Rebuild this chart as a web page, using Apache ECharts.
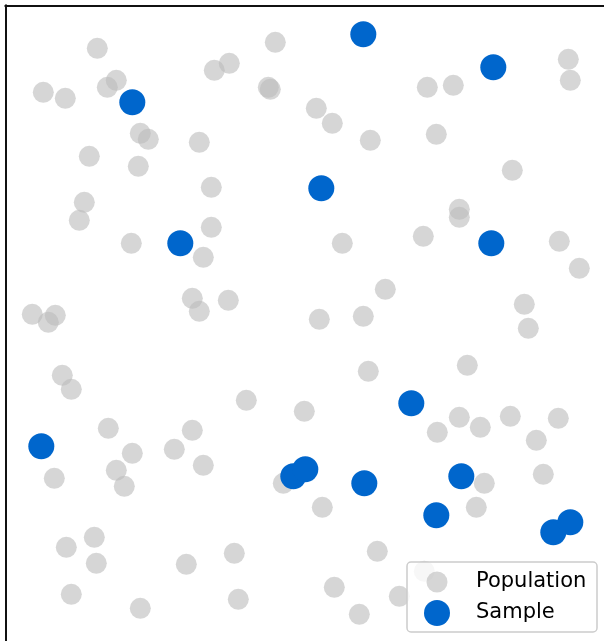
<!DOCTYPE html>
<html>
<head>
<meta charset="utf-8">
<script src="https://cdn.jsdelivr.net/npm/echarts@6/dist/echarts.min.js"></script>
<style>
html,body{margin:0;padding:0;background:#fff;}
#c{width:604px;height:641px;}
</style>
</head>
<body>
<div id="c"></div>
<script>
// Coordinates in plot units (origin at the top-left corner of the frame, y grows downward)
const populationX = [92,38,60,102,111,135,143,84,133,209,224,270,263,265,194,206,79,74,126,206,198,187,194,223,27,50,43,57,66,311,327,365,422,448,431,563,565,507,454,454,418,337,554,574,380,519,523,358,314,363,462,241,299,432,454,475,505,553,531,538,479,471,103,127,111,119,169,187,198,49,278,317,89,61,91,181,229,66,135,233,329,372,354,394,419];
const populationY = [43,87,93,82,75,128,134,151,161,65,58,37,82,84,137,182,197,215,238,222,252,293,306,295,309,310,317,370,384,103,118,135,82,80,129,54,75,165,204,212,231,238,236,263,284,299,323,311,314,366,360,395,406,427,412,422,411,413,435,469,478,502,423,448,465,481,444,425,460,473,478,502,532,542,558,559,548,589,603,594,582,546,609,591,566];
const sampleX = [358,488,127,316,175,486,406,36,288,300,359,456,431,548,565];
const sampleY = [29,62,97,183,238,238,398,441,471,464,478,471,510,527,517];
const seriesNames = ['Population','Sample'];

const popData = populationX.map((x,i)=>[x,populationY[i]]);
const sampData = sampleX.map((x,i)=>[x,sampleY[i]]);

const W = 604 - 5.3, H = 641 - 5.3;
const chart = echarts.init(document.getElementById('c'), null, {renderer:'canvas'});
chart.setOption({
  animation:false,
  backgroundColor:'#ffffff',
  grid:{left:5.3, top:5.3, width:W, height:H, containLabel:false},
  xAxis:{type:'value', min:0, max:W, position:'top',
    axisLine:{show:true, lineStyle:{color:'#111', width:2}},
    axisTick:{show:false}, axisLabel:{show:false}, splitLine:{show:false}},
  yAxis:{type:'value', min:0, max:H, inverse:true,
    axisLine:{show:true, onZero:false, lineStyle:{color:'#111', width:2}},
    axisTick:{show:false}, axisLabel:{show:false}, splitLine:{show:false}},
  graphic:[{type:'rect', z:50, silent:true,
    shape:{x:407, y:562, width:190, height:70, r:4},
    style:{fill:'rgba(255,255,255,0.8)', stroke:'#cccccc', lineWidth:1.5}}],
  legend:[
    {data:[seriesNames[0]], left:426.5, top:571.5, padding:0, itemWidth:21, itemHeight:21,
     z:60, selectedMode:false,
     textStyle:{fontSize:21, fontFamily:'DejaVu Sans', color:'#000', padding:[0,0,0,23.5]}},
    {data:[seriesNames[1]], left:424, top:600, padding:0, itemWidth:26, itemHeight:26,
     z:60, selectedMode:false,
     textStyle:{fontSize:21, fontFamily:'DejaVu Sans', color:'#000', padding:[0,0,0,21]}}
  ],
  series:[
    {name:seriesNames[0], type:'scatter', data:popData, symbol:'circle', symbolSize:21,
     itemStyle:{color:'#bbbbbb', opacity:0.6}, silent:true, emphasis:{disabled:true}},
    {name:seriesNames[1], type:'scatter', data:sampData, symbol:'circle', symbolSize:26,
     itemStyle:{color:'#0066cc', opacity:1}, silent:true, emphasis:{disabled:true}}
  ]
});
</script>
</body>
</html>
